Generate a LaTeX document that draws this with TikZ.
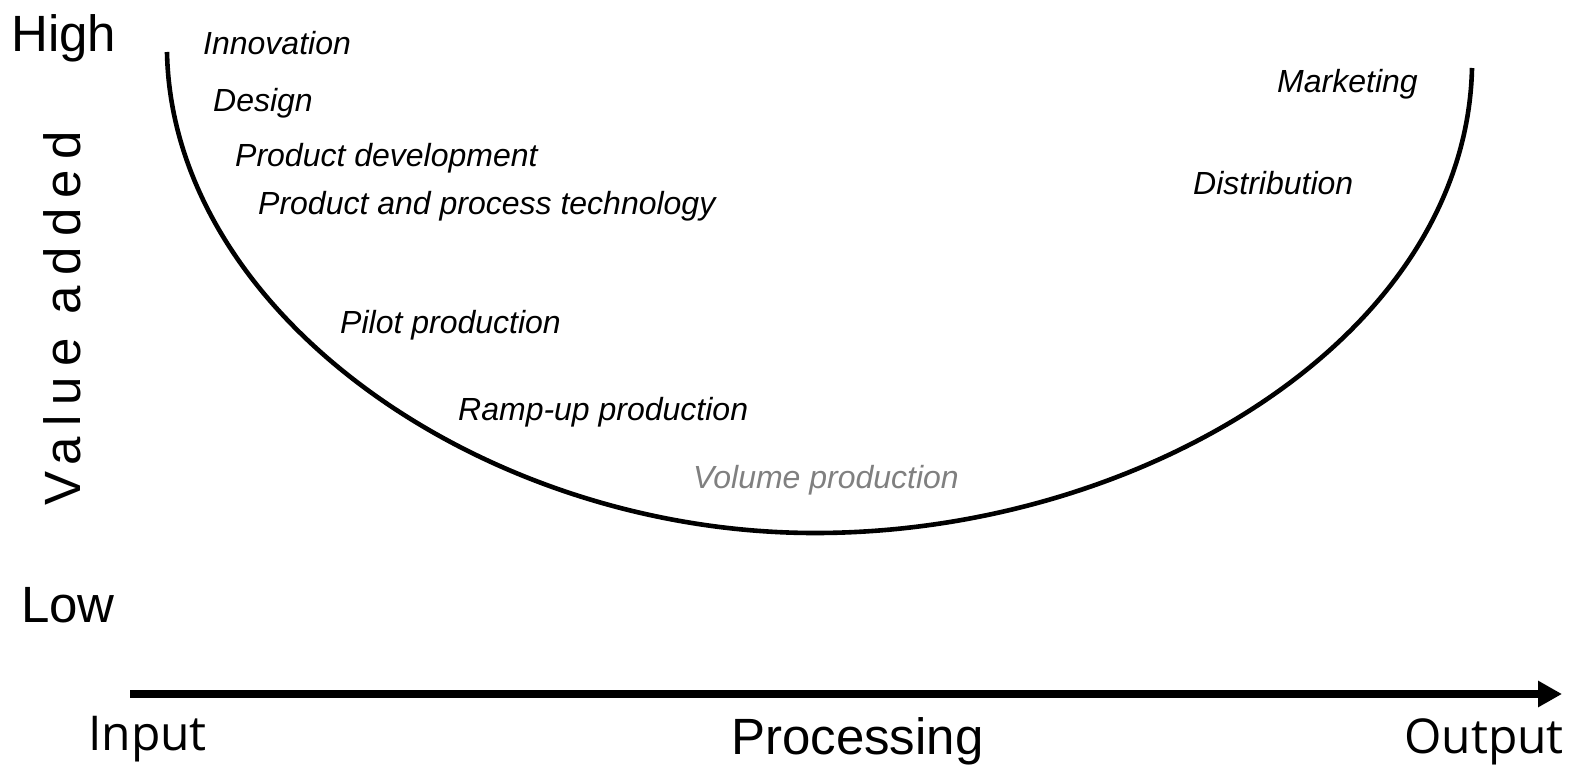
\documentclass[tikz,border=0pt]{standalone}
\usepackage{fontspec}
\setmainfont{Liberation Sans}
\newfontfamily\ofont{Open Sans}
\usetikzlibrary{arrows.meta}
\definecolor{volgray}{HTML}{808080}
\tikzset{
  axislab/.style={font=\fontsize{51}{60}\selectfont, inner sep=0pt, anchor=base west},
  stagelab/.style={font=\fontsize{32}{36}\selectfont\itshape, inner sep=0pt, anchor=base west},
  ucurve/.style={line width=4.6pt},
  axisarrow/.style={line width=8pt, -{Triangle[length=24pt 0 0, width=25pt 0 0]}}
}
\begin{document}
\begin{tikzpicture}[x=1pt,y=-1pt]
\useasboundingbox (0,0) rectangle (1576,767);
% axis labels
\node[axislab] (high) at (11,52) {High};
\node[axislab] (low) at (21,622) {Low};
\node[axislab, rotate=90] (value) at (80,506) {\addfontfeature{LetterSpace=20}Value added};
\node[axislab, font=\fontsize{48}{56}\selectfont\ofont] (input) at (88,750) {Input};
\node[axislab] (proc) at (731,754) {Processing};
\node[axislab, anchor=base east, font=\fontsize{48}{56}\selectfont\ofont] (output) at (1564,753) {Output};
% stage labels
\node[stagelab] (innov) at (203,55) {Innovation};
\node[stagelab] (design) at (213,112) {Design};
\node[stagelab] (pdev) at (235,167) {Product development};
\node[stagelab] (ptech) at (258,215) {Product and process technology};
\node[stagelab] (pilot) at (340,333) {Pilot production};
\node[stagelab] (ramp) at (458,420) {Ramp-up production};
\node[stagelab, text=volgray] (volume) at (693,488) {Volume production};
\node[stagelab] (mkt) at (1277,93) {Marketing};
\node[stagelab] (dist) at (1193,195) {Distribution};
% smile curve
\coordinate (cl) at (167,52);
\coordinate (cb) at (815,533);
\coordinate (cr) at (1472,68);
\draw[ucurve] (cl) .. controls (172,315) and (485,533) .. (cb) .. controls (1140,533) and (1466,338) .. (cr);
% axis arrow
\coordinate (ax0) at (130,694);
\coordinate (ax1) at (1562,694);
\draw[axisarrow] (ax0) -- (ax1);
\end{tikzpicture}
\end{document}
